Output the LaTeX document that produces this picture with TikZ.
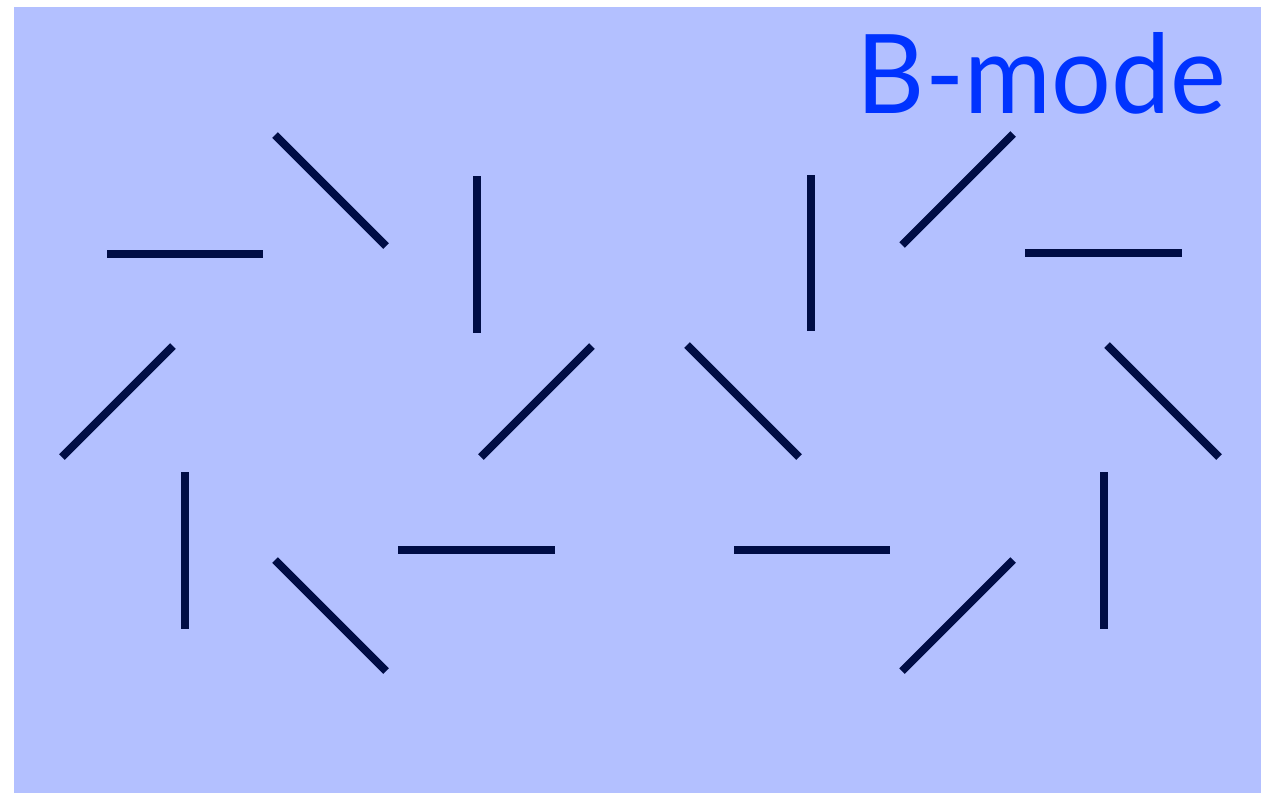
\documentclass[tikz,border=0pt]{standalone}
\usepackage{fontspec}
\setmainfont{Lato}
\definecolor{bg}{HTML}{B3C0FF}
\definecolor{ink}{HTML}{000D45}
\definecolor{title}{HTML}{0033FF}
\begin{document}
\begin{tikzpicture}[x=1pt,y=-1pt,
  stick/.style={draw=ink,line width=7.8pt,line cap=butt}]
\useasboundingbox (0,0) rectangle (1272,793);
\fill[bg] (14,7) rectangle (1261,793);
\node[anchor=base east,text=title,font=\fontsize{110}{110}\selectfont,inner sep=0pt,xscale=0.96] (label) at (1226,113) {B-mode};
% row 1
\draw[stick] (107,254) -- (263,254);
\draw[stick] (275,135) -- (386,246);
\draw[stick] (477,176) -- (477,333);
\draw[stick] (811,175) -- (811,331);
\draw[stick] (902,245) -- (1013,134);
\draw[stick] (1025,253) -- (1182,253);
% row 2
\draw[stick] (62,457) -- (173,346);
\draw[stick] (481,457) -- (592,346);
\draw[stick] (687,345) -- (799,457);
\draw[stick] (1107,345) -- (1219,457);
% row 3
\draw[stick] (185,472) -- (185,629);
\draw[stick] (275,560) -- (386,671);
\draw[stick] (398,550) -- (555,550);
\draw[stick] (734,550) -- (890,550);
\draw[stick] (902,671) -- (1013,560);
\draw[stick] (1104,472) -- (1104,629);
\end{tikzpicture}
\end{document}
